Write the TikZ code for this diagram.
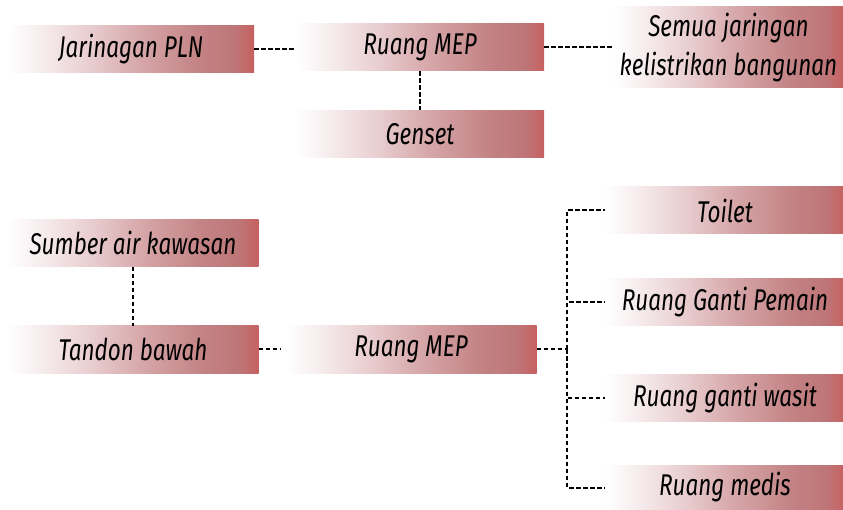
\documentclass[tikz,border=0pt]{standalone}
\usepackage{fontspec}
\newfontfamily\boxfont{Fira Sans}[FakeStretch=0.75]

% colour stops of the white-to-red box fill
\definecolor{fadeA}{RGB}{246,236,237}
\definecolor{fadeB}{RGB}{232,204,206}
\definecolor{fadeC}{RGB}{214,166,168}
\definecolor{fadeD}{RGB}{195,130,132}
\definecolor{fadeE}{RGB}{190,118,120}
\definecolor{fadeF}{RGB}{199,96,96}
\pgfdeclarehorizontalshading{redfade}{100bp}{%
  color(0bp)=(white); color(25bp)=(white); color(32bp)=(fadeA);
  color(42bp)=(fadeB); color(52bp)=(fadeC); color(64bp)=(fadeD);
  color(71bp)=(fadeE); color(75bp)=(fadeF); color(100bp)=(fadeF)}

\begin{document}
\begin{tikzpicture}[x=1pt,y=-1pt,
  gbox/.style={shading=redfade, minimum height=47pt, inner sep=0pt,
    font=\boxfont\itshape\fontsize{30}{39}\selectfont, text=black},
  conn/.style={draw=black, line width=2pt, dash pattern=on 4.5pt off 2.5pt}]
\useasboundingbox (0,0) rectangle (843,510);

% electrical supply
\node[gbox, minimum width=246pt] (pln) at (131,49) {Jarinagan PLN};
\node[gbox, minimum width=248pt] (mepA) at (420,47.5) {Ruang MEP};
\node[gbox, minimum width=231pt, minimum height=81pt, align=center] (semua) at (728.5,47.5)
  {Semua jaringan\\kelistrikan bangunan};
\node[gbox, minimum width=248pt] (genset) at (420,134) {Genset};

\draw[conn] (pln.east) -- (pln.east -| mepA.west);
\draw[conn] (mepA.east) -- (mepA.east -| semua.west);
\draw[conn] (mepA.south) -- (genset.north);

% water supply
\node[gbox, minimum width=251pt] (sumber) at (133,243) {Sumber air kawasan};
\node[gbox, minimum width=251pt] (tandon) at (133,349.5) {Tandon bawah};
\node[gbox, minimum width=251pt] (mepB) at (411,349.5) {Ruang MEP};
\node[gbox, minimum width=240pt] (toilet) at (725,210.5) {Toilet};
\node[gbox, minimum width=240pt] (pemain) at (725,302.5) {Ruang Ganti Pemain};
\node[gbox, minimum width=240pt] (wasit) at (725,398) {Ruang ganti wasit};
\node[gbox, minimum width=240pt, minimum height=45pt] (medis) at (725,487.5) {Ruang medis};

\draw[conn] (sumber.south) -- (tandon.north);
\draw[conn, shorten >=4pt] (tandon.east) -- (mepB.west);
\coordinate (bus) at (567,349.5);
\draw[conn] (mepB.east) -- (bus);
\draw[conn] (bus) |- (toilet.west);
\draw[conn] (bus) |- (pemain.west);
\draw[conn] (bus) |- (wasit.west);
\draw[conn] (bus) |- (medis.west);
\end{tikzpicture}
\end{document}
